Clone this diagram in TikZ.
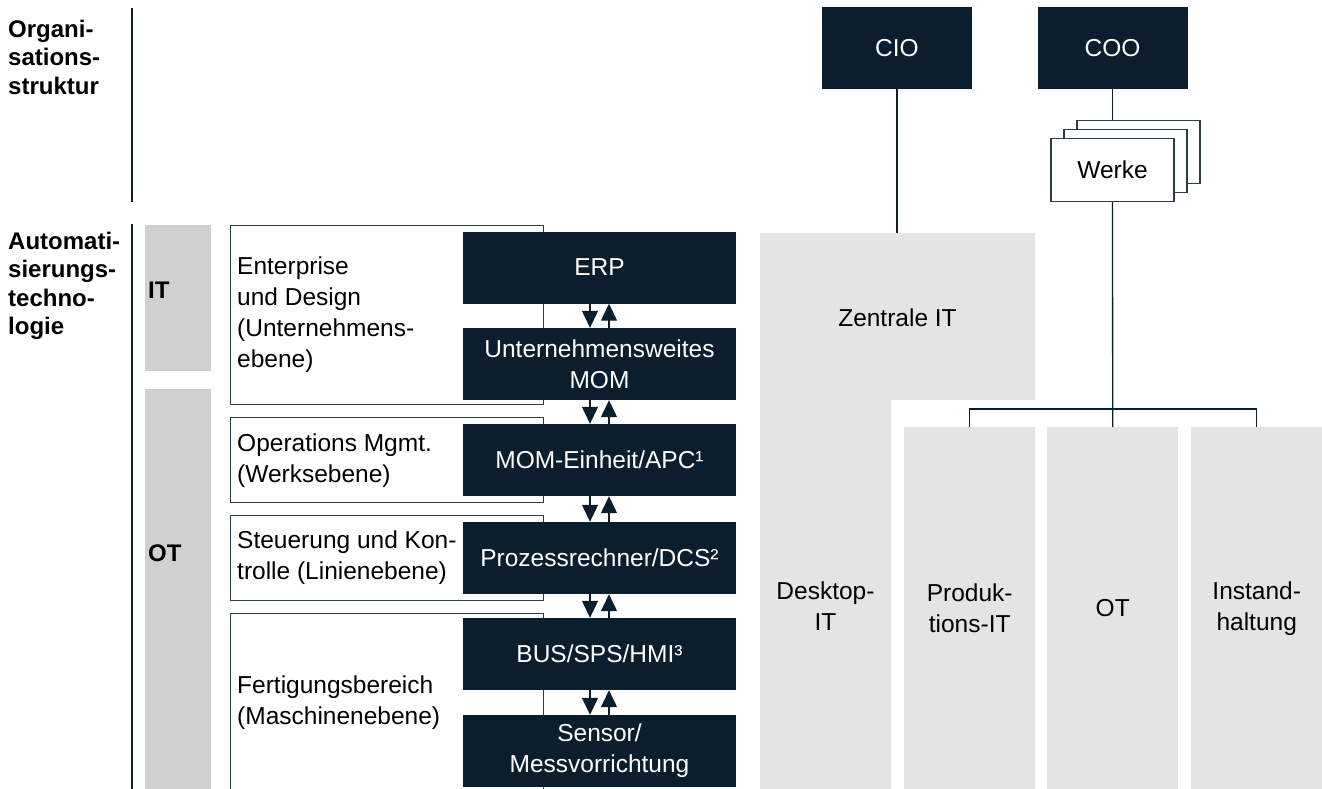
\documentclass[tikz,border=0pt]{standalone}
\usepackage{fontspec}
\setmainfont{Liberation Sans}
\usetikzlibrary{arrows.meta}
\definecolor{navy}{RGB}{10,30,45}
\definecolor{lgray}{RGB}{228,228,228}
\definecolor{mgray}{RGB}{208,208,208}
\definecolor{edge}{RGB}{45,60,75}
\newcommand{\nfont}{\fontsize{24.5}{31}\selectfont}
\newcommand{\bfont}{\fontsize{24}{28.5}\selectfont\bfseries}
\begin{document}
\begin{tikzpicture}[x=1pt,y=-1pt,
  darkbox/.style={fill=navy, text=white, minimum width=273pt, minimum height=72pt, inner sep=0pt, font=\nfont, align=center},
  topbox/.style={fill=navy, text=white, minimum width=150pt, minimum height=82pt, inner sep=0pt, font=\nfont},
  lblbox/.style={draw=edge, line width=1.2pt, fill=white, anchor=north west, inner sep=0pt},
  lbltxt/.style={font=\nfont, align=left, anchor=west, inner sep=0pt},
  boldtxt/.style={font=\bfont, align=left, anchor=west, inner sep=0pt},
  graycol/.style={fill=lgray, anchor=north west, inner sep=0pt, minimum width=131pt, minimum height=362pt, font=\nfont, align=center},
  werk/.style={draw=edge, line width=1.2pt, fill=white, minimum width=123pt, minimum height=63pt, inner sep=0pt, font=\nfont},
  conn/.style={draw=navy, line width=1.3pt},
  arr/.style={conn, -{Triangle[width=16pt,length=17pt]}},
  sep/.style={draw=navy, line width=1.3pt}
]
\useasboundingbox (0,0) rectangle (1322,789);

% left separators
\draw[sep] (132,8) -- (132,202);
\draw[sep] (132,224) -- (132,789);

% left headings
\node[boldtxt] (org) at (8,57) {Organi-\\sations-\\struktur};
\node[boldtxt] (aut) at (8,286) {Automati-\\sierungs-\\techno-\\logie};

% IT / OT bars
\node[fill=mgray, anchor=north west, minimum width=66pt, minimum height=146pt, inner sep=0pt] (itbar) at (145,225) {};
\node[fill=mgray, anchor=north west, minimum width=66pt, minimum height=400pt, inner sep=0pt] (otbar) at (145,389) {};
\node[boldtxt] (itl) at (148,290) {IT};
\node[boldtxt] (otl) at (148,553) {OT};

% level label boxes
\node[lblbox, minimum width=313pt, minimum height=179pt] (l1) at (230,225) {};
\node[lblbox, minimum width=313pt, minimum height=85pt] (l2) at (230,417) {};
\node[lblbox, minimum width=313pt, minimum height=85pt] (l3) at (230,515) {};
\node[lblbox, minimum width=313pt, minimum height=190pt] (l4) at (230,613) {};
\node[lbltxt] (t1) at (237,315) {Enterprise\\und Design\\(Unternehmens-\\ebene)};
\node[lbltxt] (t2) at (237,461) {Operations Mgmt.\\(Werksebene)};
\node[lbltxt] (t3) at (237,558) {Steuerung und Kon-\\trolle (Linienebene)};
\node[lbltxt] (t4) at (237,703) {Fertigungsbereich\\(Maschinenebene)};

% dark stack
\node[darkbox] (erp) at (599.5,267.5) {ERP};
\node[darkbox] (umom) at (599.5,364) {Unternehmensweites\\MOM};
\node[darkbox] (mome) at (599.5,460) {MOM-Einheit/APC¹};
\node[darkbox] (proz) at (599.5,558) {Prozessrechner/DCS²};
\node[darkbox] (bus) at (599.5,654) {BUS/SPS/HMI³};
\node[darkbox] (sens) at (599.5,751) {Sensor/\\Messvorrichtung};

\foreach \a/\b in {erp/umom, umom/mome, mome/proz, proz/bus, bus/sens}{
  \draw[arr] ([xshift=-9.5pt]\a.south) -- ([xshift=-9.5pt]\b.north);
  \draw[arr] ([xshift=9.5pt]\b.north) -- ([xshift=9.5pt]\a.south);
}

% right side
\node[topbox] (cio) at (897,48) {CIO};
\node[topbox] (coo) at (1112.5,48) {COO};

\node[fill=lgray, anchor=north west, minimum width=275pt, minimum height=167pt, inner sep=0pt] (zen) at (760,233) {};
\node[fill=lgray, anchor=north west, minimum width=131pt, minimum height=389pt, inner sep=0pt] (desk) at (760,400) {};
\node[font=\nfont, inner sep=0pt] (zentxt) at (897.5,318) {Zentrale IT};
\node[font=\nfont, align=center, inner sep=0pt] (desktxt) at (825.5,606) {Desktop-\\IT};

\node[graycol] (prod) at (904,427) {Produk-\\tions-IT};
\node[graycol] (ot) at (1047,427) {OT};
\node[graycol] (inst) at (1191,427) {Instand-\\haltung};

\node[werk] (back) at (1138.5,152) {};
\node[werk] (mid) at (1125.5,161) {};
\node[werk] (front) at (1112.5,170) {Werke};

\draw[conn] (cio.south) -- (cio.south |- zen.north);
\draw[conn] (coo.south) -- (coo.south |- back.north);
\coordinate (bar) at (1112.5,409);
\draw[conn] (front.south) -- (ot.north);
\draw[conn] (prod.north) |- (bar) -| (inst.north);
\end{tikzpicture}
\end{document}
